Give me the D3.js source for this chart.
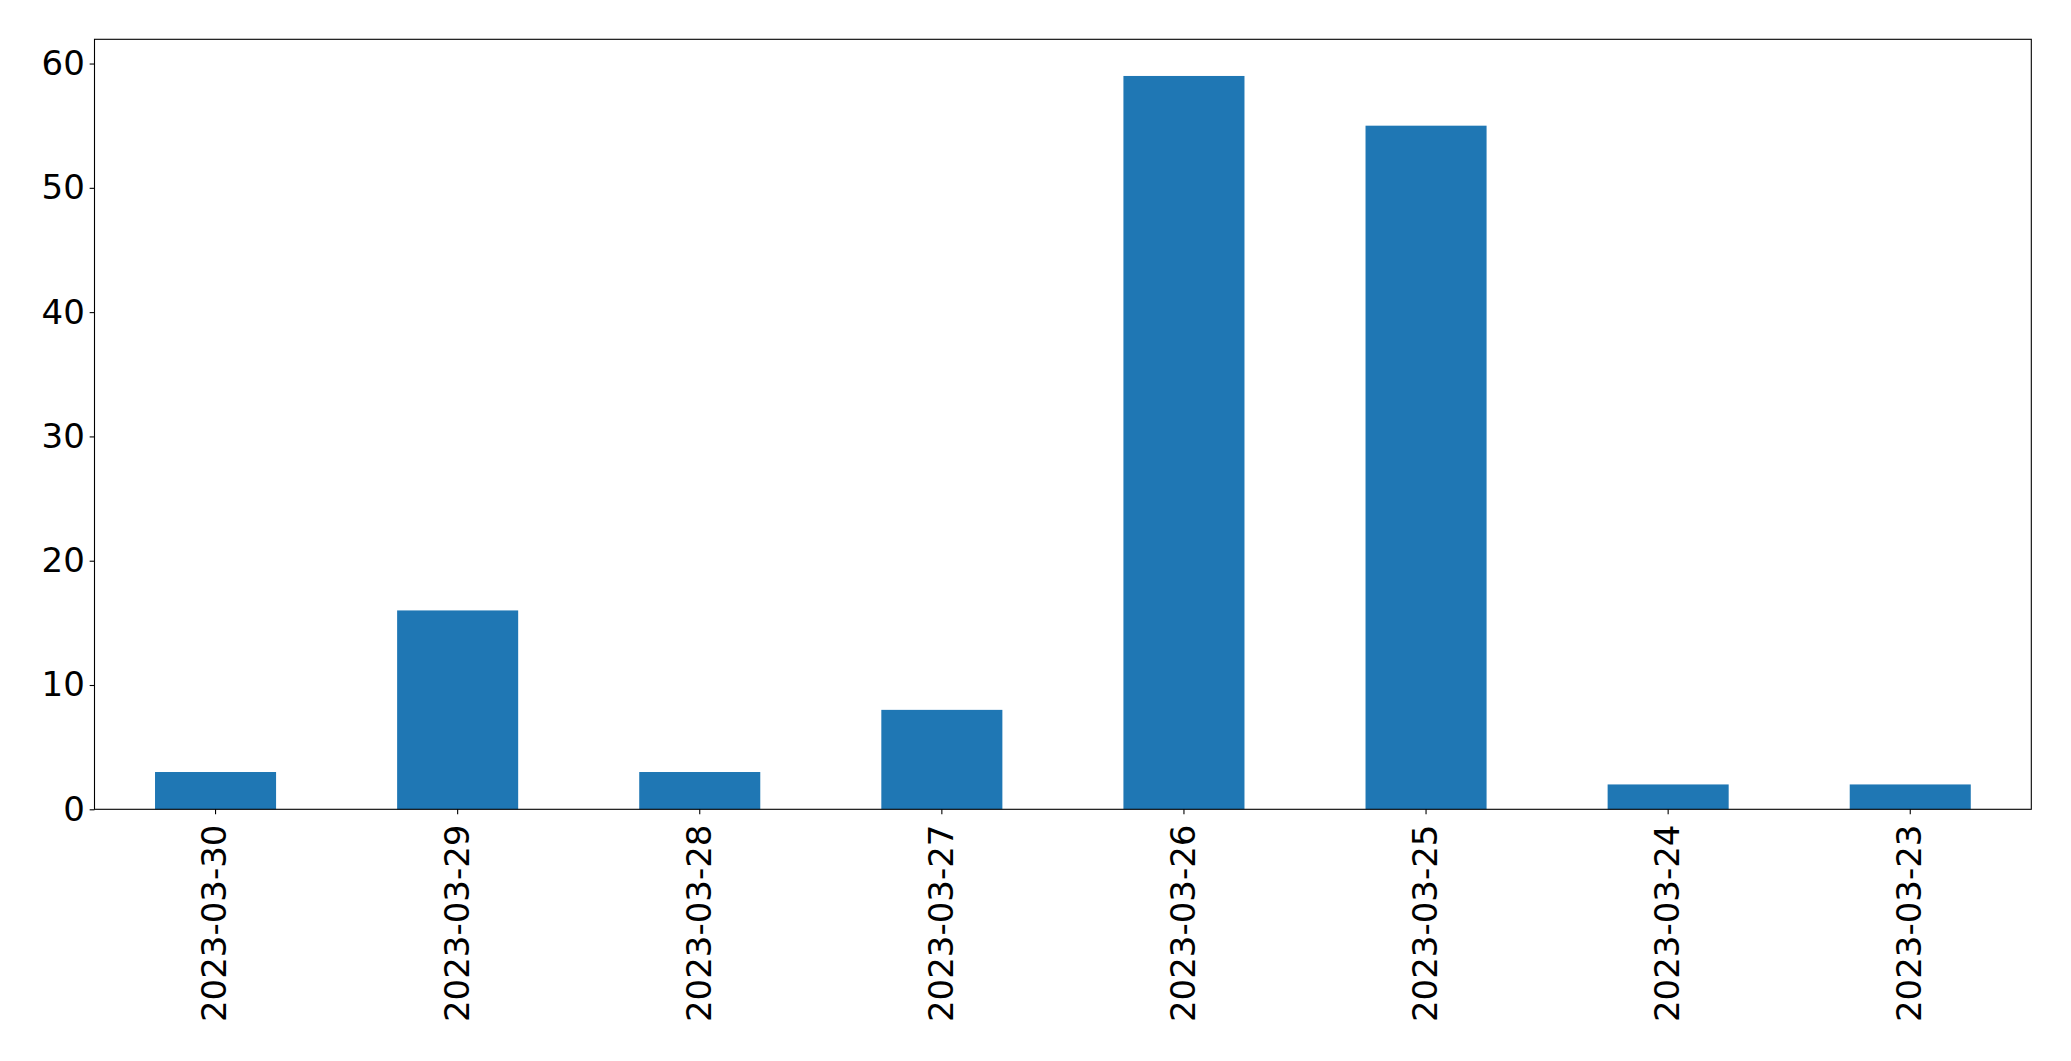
<!DOCTYPE html>
<html><head><meta charset="utf-8">
<script src="https://cdn.jsdelivr.net/npm/d3@7"></script>
<style>body{margin:0;background:#fff}svg{display:block}text{font-family:"DejaVu Sans",sans-serif}</style>
</head><body>
<script>
const categories = ["2023-03-30","2023-03-29","2023-03-28","2023-03-27","2023-03-26","2023-03-25","2023-03-24","2023-03-23"];
const values = [3,16,3,8,59,55,2,2];
const yTicks = [0,10,20,30,40,50,60];

const W=2071,H=1061;
const m={left:94.5,right:2031.3,top:39.3,bottom:809.3};
const svg=d3.select("body").append("svg").attr("width",W).attr("height",H);
const x=d3.scaleBand().domain(categories).range([m.left,m.right]).paddingInner(0.5).paddingOuter(0.25);
const y=d3.scaleLinear().domain([0,d3.max(values)*1.05]).range([m.bottom,m.top]);

svg.append("g").selectAll("rect").data(values).join("rect")
  .attr("x",(d,i)=>x(categories[i])).attr("width",x.bandwidth())
  .attr("y",d=>y(d)).attr("height",d=>y(0)-y(d)).attr("fill","#1f77b4");

const fs=34, tl=4.86, pad=4.86;
const yAxis=svg.append("g").attr("transform",`translate(${m.left},0)`)
  .call(d3.axisLeft(y).tickValues(yTicks).tickSize(tl).tickPadding(pad));
yAxis.select(".domain").remove();
yAxis.selectAll("text").attr("font-size",fs).attr("fill","#000").attr("font-family","DejaVu Sans");
yAxis.selectAll("line").attr("stroke","#000").attr("stroke-width",1.1);

const xAxis=svg.append("g").attr("transform",`translate(0,${m.bottom})`)
  .call(d3.axisBottom(x).tickSize(tl).tickSizeOuter(0));
xAxis.select(".domain").remove();
xAxis.selectAll("line").attr("stroke","#000").attr("stroke-width",1.1);
xAxis.selectAll("text").attr("font-size",fs).attr("fill","#000").attr("font-family","DejaVu Sans")
  .attr("transform",`translate(-1,${tl+pad+5.5}) rotate(-90)`)
  .attr("x",0).attr("y",0).attr("dy","0.35em").attr("text-anchor","end");

svg.append("rect").attr("x",m.left).attr("y",m.top).attr("width",m.right-m.left).attr("height",m.bottom-m.top)
  .attr("fill","none").attr("stroke","#000").attr("stroke-width",1.1);
</script>
</body></html>
